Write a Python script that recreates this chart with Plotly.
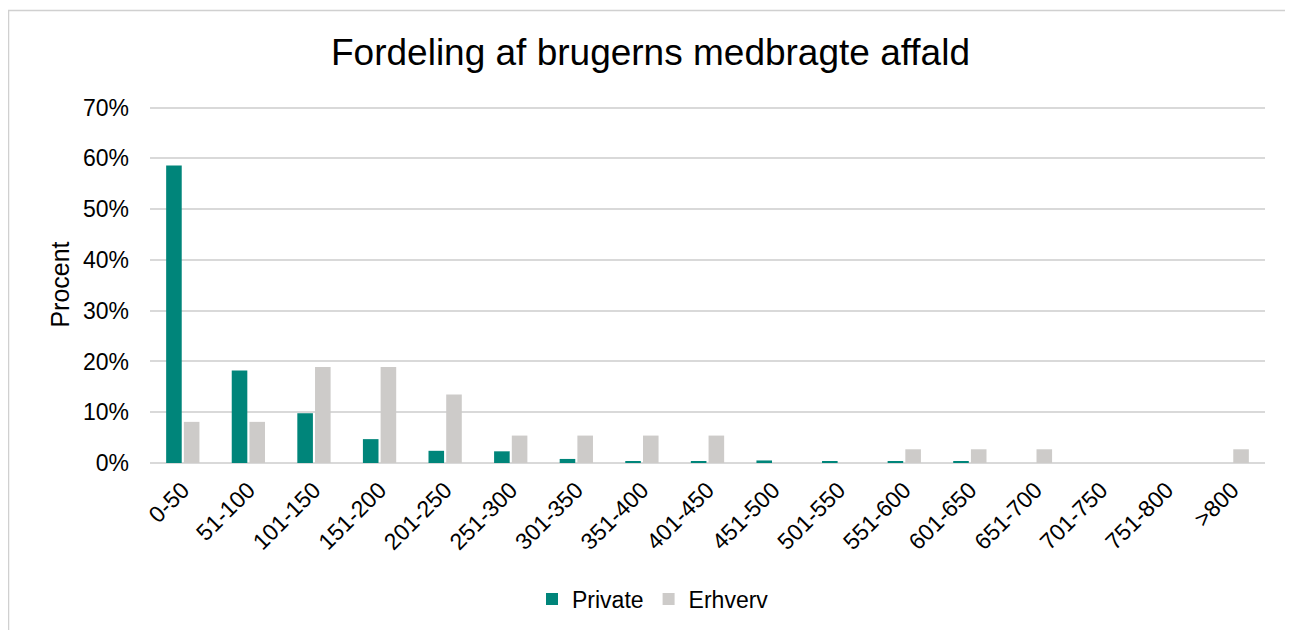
import plotly.graph_objects as go

categories = ["0-50", "51-100", "101-150", "151-200", "201-250", "251-300", "301-350",
              "351-400", "401-450", "451-500", "501-550", "551-600", "601-650",
              "651-700", "701-750", "751-800", ">800"]
private = [58.6, 18.2, 9.8, 4.7, 2.4, 2.3, 0.8, 0.4, 0.3, 0.5, 0.2, 0.2, 0.2, 0, 0, 0, 0]
erhverv = [8.1, 8.1, 18.9, 18.9, 13.5, 5.4, 5.4, 5.4, 5.4, 0, 0, 2.7, 2.7, 2.7, 0, 0, 2.7]
y_tick_values = [0, 10, 20, 30, 40, 50, 60, 70]
y_tick_labels = ["0%", "10%", "20%", "30%", "40%", "50%", "60%", "70%"]

font = "Liberation Sans, Arial, sans-serif"
fig = go.Figure()
fig.add_trace(go.Bar(x=categories, y=private, name="Private", marker_color="#00857A",
                     marker_line_width=0))
fig.add_trace(go.Bar(x=categories, y=erhverv, name="Erhverv", marker_color="#CDCBC9",
                     marker_line_width=0))

OFF = 8  # page body margin
W, H = 1285, 622
L, T = 150 - OFF, 106 - OFF
R = W - (1265 - OFF)
B = H - (463 - OFF)
pw, ph = W - L - R, H - T - B

def px_x(x):
    return (x - OFF - L) / pw

def px_y(y):
    return (H - B - (y - OFF)) / ph

fig.update_layout(
    width=W, height=H,
    margin=dict(l=L, r=R, t=T, b=B, autoexpand=False),
    paper_bgcolor="white", plot_bgcolor="white",
    font=dict(family=font, size=23, color="#000000"),
    title=dict(text="Fordeling af brugerns medbragte affald", x=0.5, xanchor="center",
               y=1 - (52 - OFF) / H, yanchor="middle", font=dict(size=37, family=font, color="#000")),
    barmode="group", bargap=0.46, bargroupgap=0.12,
    showlegend=True,
    legend=dict(orientation="h", x=px_x(653), xanchor="center", y=px_y(599), yanchor="middle",
                font=dict(size=23), itemwidth=30, traceorder="normal"),
    xaxis=dict(tickangle=-45, showgrid=False, showline=False, ticks="",
               tickfont=dict(size=23), ticklabelstandoff=8),
    yaxis=dict(range=[0, 70.3], tickmode="array", tickvals=y_tick_values, ticktext=y_tick_labels,
               showgrid=True, gridcolor="#D9D9D9",
               gridwidth=1.5, zeroline=True, zerolinecolor="#D9D9D9", zerolinewidth=1.5,
               showline=False, tickfont=dict(size=23), ticklabelstandoff=20,
               title=dict(text="Procent", font=dict(size=25), standoff=6)),
)

fig.add_shape(type="rect", xref="paper", yref="paper",
              x0=px_x(8.5), x1=px_x(1286.5), y0=px_y(10.5), y1=px_y(660),
              line=dict(color="#D0D0D0", width=1.5), fillcolor="rgba(0,0,0,0)", layer="below")

fig.write_html("out.html")
